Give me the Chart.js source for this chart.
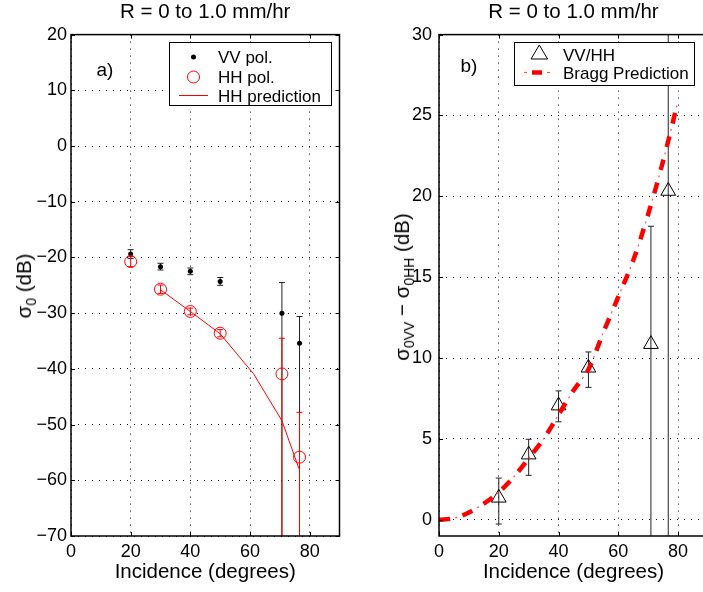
<!DOCTYPE html>
<html><head><meta charset="utf-8">
<script src="https://cdn.jsdelivr.net/npm/chart.js@4.4.1/dist/chart.umd.min.js"></script>
<style>
html,body{margin:0;padding:0;background:#fff;overflow:hidden;width:703px;height:592px;}
body{position:relative;font-family:"Liberation Sans",Arial,sans-serif;color:#000;}
canvas{position:absolute;top:0;}
#cL{left:0;}
#cR{left:360px;}
.ylab{position:absolute;white-space:nowrap;font-size:20.5px;line-height:20px;transform:translate(-50%,-50%) rotate(-90deg);}
.ylab sub{font-size:14px;vertical-align:-5px;line-height:0;}
.tag{position:absolute;font-size:19px;line-height:19px;transform:translate(-50%,-50%);white-space:nowrap;}
.legend{position:absolute;background:#fff;border:1px solid #000;box-sizing:border-box;font-size:17px;}
.legend span{position:absolute;white-space:nowrap;line-height:17px;transform:translateY(-50%);}
.legend svg{position:absolute;left:0;top:0;}
</style></head>
<body>
<canvas id="cL" width="350" height="592"></canvas>
<canvas id="cR" width="360" height="592"></canvas>
<div class="ylab" style="left:24px;top:286px">σ<sub>0</sub> (dB)</div>
<div class="ylab" style="left:402px;top:287px">σ<sub>0VV</sub> − σ<sub>0HH</sub> (dB)</div>
<div class="tag" style="left:105px;top:69px">a)</div>
<div class="tag" style="left:469px;top:65px">b)</div>
<div class="legend" style="left:169px;top:42px;width:163px;height:64px;">
  <svg width="161" height="62">
    <circle cx="23.5" cy="14" r="2.5" fill="#000"/>
    <circle cx="23.5" cy="34" r="6" fill="none" stroke="#ff0000" stroke-width="1"/>
    <line x1="9" y1="52.5" x2="38" y2="52.5" stroke="#ff0000" stroke-width="1"/>
  </svg>
  <span style="left:48px;top:14px">VV pol.</span>
  <span style="left:48px;top:34px">HH pol.</span>
  <span style="left:48px;top:52.5px">HH prediction</span>
</div>
<div class="legend" style="left:514px;top:42px;width:181px;height:44px;">
  <svg width="179" height="42">
    <polygon points="24.3,2 16,16 32.6,16" fill="none" stroke="#000" stroke-width="1"/>
    <line x1="9" y1="29.5" x2="12" y2="29.5" stroke="#ff5050" stroke-width="1.2"/>
    <line x1="17" y1="29.5" x2="27" y2="29.5" stroke="#ff0000" stroke-width="4.5"/>
    <line x1="32" y1="29.5" x2="35" y2="29.5" stroke="#ff5050" stroke-width="1.2"/>
  </svg>
  <span style="left:48px;top:11.5px">VV/HH</span>
  <span style="left:48px;top:29.5px">Bragg Prediction</span>
</div>
<script>
// ---- data ----
const xTicks = [0, 20, 40, 60, 80];
const yTicksA = [-70, -60, -50, -40, -30, -20, -10, 0, 10, 20];
const yTicksB = [0, 5, 10, 15, 20, 25, 30];

const incA = [20, 30, 40, 50, 70.7, 76.6];
const vvPol = [-19.4, -21.65, -22.5, -24.3, -30.0, -35.4];
const vvLo  = [-20.2, -22.25, -23.1, -25.0, -75, -75];   // -75: runs off the bottom of the axis
const vvHi  = [-18.6, -21.05, -21.9, -23.6, -24.5, -30.6];
const hhPol = [-20.75, -25.7, -29.7, -33.6, -40.9, -55.85];
const hhLo  = [-21.65, -26.45, -30.3, -34.25, -75, -75];
const hhHi  = [-19.85, -24.95, -29.1, -32.95, -34.5, -47.8];
const incPred = [30, 40, 50, 61.2, 70.7, 76.4];
const hhPred  = [-25.8, -29.7, -33.7, -40.9, -49.3, -57.9];

const incB = [20, 30, 40, 50, 70.9, 76.7];
const vvhh   = [1.36, 4.03, 7.06, 9.40, 10.86, 20.33];
const vvhhLo = [-0.26, 2.75, 6.06, 8.19, -2, -2];        // -2: off the bottom of the axis
const vvhhHi = [2.58, 4.98, 7.97, 10.38, 18.15, 31];     // 31: off the top of the axis
const incBragg = [0, 5, 10, 15, 20, 25, 30, 35, 40, 45, 50, 55, 60, 65, 70, 75, 80];
const bragg    = [0, 0.1, 0.45, 1.0, 1.7, 2.65, 3.8, 5.0, 6.5, 8.0, 9.3, 11.6, 13.8, 16.05, 18.9, 22.2, 25.9];

const titleText = 'R = 0 to 1.0 mm/hr';
const xLabel = 'Incidence (degrees)';

// ---- helpers ----
const FONT = '"Liberation Sans", Arial, sans-serif';
Chart.defaults.font.family = FONT;
Chart.defaults.color = '#000';

const pts = (xs, ys) => xs.map((x, i) => ({x: x, y: ys[i]}));
function errSets(xs, lo, hi, color) {
  return xs.map((x, i) => ({
    data: [{x: x, y: lo[i]}, {x: x, y: hi[i]}],
    showLine: true, borderColor: color, borderWidth: 1,
    pointStyle: 'line', pointRadius: 3, pointBorderColor: color,
    pointBorderWidth: 1, pointBackgroundColor: color
  }));
}
const fmt = v => String(v).replace('-', '\u2212');

const boxPlugin = {
  id: 'mbox',
  afterDatasetsDraw(chart, args, opts) {
    const {ctx, chartArea: a, scales: {x, y}} = chart;
    ctx.save();
    ctx.strokeStyle = '#000';
    ctx.lineWidth = 1;
    ctx.beginPath();
    for (const v of opts.xt) {
      const p = Math.round(x.getPixelForValue(v)) + 0.5;
      ctx.moveTo(p, a.bottom); ctx.lineTo(p, a.bottom - 4);
      ctx.moveTo(p, a.top); ctx.lineTo(p, a.top + 4);
    }
    for (const v of opts.yt) {
      const p = Math.round(y.getPixelForValue(v)) + 0.5;
      ctx.moveTo(a.left, p); ctx.lineTo(a.left + 4, p);
      ctx.moveTo(a.right, p); ctx.lineTo(a.right - 4, p);
    }
    ctx.stroke();
    ctx.lineWidth = 1.5;
    ctx.strokeRect(a.left, a.top, a.right - a.left, a.bottom - a.top);
    ctx.restore();
  }
};

function makeOptions(yMin, yMax, yTicks, yWidth, yPad, padRight) {
  return {
    responsive: false, animation: false, devicePixelRatio: 1, events: [],
    layout: {padding: {left: 0, right: padRight, top: 0, bottom: 0}},
    plugins: {
      legend: {display: false}, tooltip: {enabled: false},
      title: {display: true, text: titleText, fullSize: false,
              font: {size: 20.5, weight: 'normal', family: FONT}, color: '#000',
              padding: {top: 0, bottom: 10}},
      mbox: {xt: xTicks, yt: yTicks}
    },
    scales: {
      x: {
        type: 'linear', min: 0, max: 90,
        afterBuildTicks: s => { s.ticks = xTicks.map(v => ({value: v})); },
        afterFit: s => { s.height = 56; },
        title: {display: true, text: xLabel, color: '#000',
                font: {size: 20.5, family: FONT}, padding: {top: 0, bottom: 7}},
        grid: {color: '#000', lineWidth: 1, drawTicks: false},
        border: {display: false, dash: [1, 6]},
        ticks: {font: {size: 18}, padding: 5, color: '#000', maxRotation: 0, autoSkip: false, callback: fmt}
      },
      y: {
        type: 'linear', min: yMin, max: yMax,
        afterBuildTicks: s => { s.ticks = yTicks.map(v => ({value: v})); },
        afterFit: s => { s.width = yWidth; },
        grid: {color: '#000', lineWidth: 1, drawTicks: false},
        border: {display: false, dash: [1, 6]},
        ticks: {font: {size: 18}, padding: yPad, color: '#000', autoSkip: false, callback: fmt}
      }
    }
  };
}

// ---- left chart ----
new Chart(document.getElementById('cL'), {
  type: 'scatter',
  data: {datasets: [
    {label: 'HH pol.', data: pts(incA, hhPol), pointStyle: 'circle', pointRadius: 6,
     pointBackgroundColor: 'rgba(0,0,0,0)', pointBorderColor: '#ff0000', pointBorderWidth: 1},
    {label: 'VV pol.', data: pts(incA, vvPol), pointStyle: 'circle', pointRadius: 2.5,
     pointBackgroundColor: '#000', pointBorderColor: '#000', pointBorderWidth: 0},
    {label: 'HH prediction', data: pts(incPred, hhPred), showLine: true, borderColor: '#ff0000',
     borderWidth: 1, pointRadius: 0, tension: 0},
    ...errSets(incA, hhLo, hhHi, '#ff0000'),
    ...errSets(incA, vvLo, vvHi, '#222')
  ]},
  options: makeOptions(-70, 20, yTicksA, 71, 4, 10.5),
  plugins: [boxPlugin]
});

// ---- right chart ----
new Chart(document.getElementById('cR'), {
  type: 'scatter',
  data: {datasets: [
    {label: 'Bragg Prediction', data: pts(incBragg, bragg), showLine: true, borderColor: '#ff0000',
     borderWidth: 4.5, borderDash: [11, 13], pointRadius: 0, tension: 0.3},
    {label: 'Bragg Prediction (dot)', data: pts(incBragg, bragg), showLine: true, borderColor: '#ff5050',
     borderWidth: 1.2, borderDash: [2, 22], borderDashOffset: 7.5, pointRadius: 0, tension: 0.3},
    {label: 'VV/HH', data: pts(incB, vvhh), pointStyle: 'triangle', pointRadius: 8.5,
     pointBackgroundColor: 'rgba(0,0,0,0)', pointBorderColor: '#000', pointBorderWidth: 1},
    ...errSets(incB, vvhhLo, vvhhHi, '#222')
  ]},
  options: makeOptions(-1, 30, yTicksB, 79, 7, 12),
  plugins: [boxPlugin]
});
</script>
</body></html>
